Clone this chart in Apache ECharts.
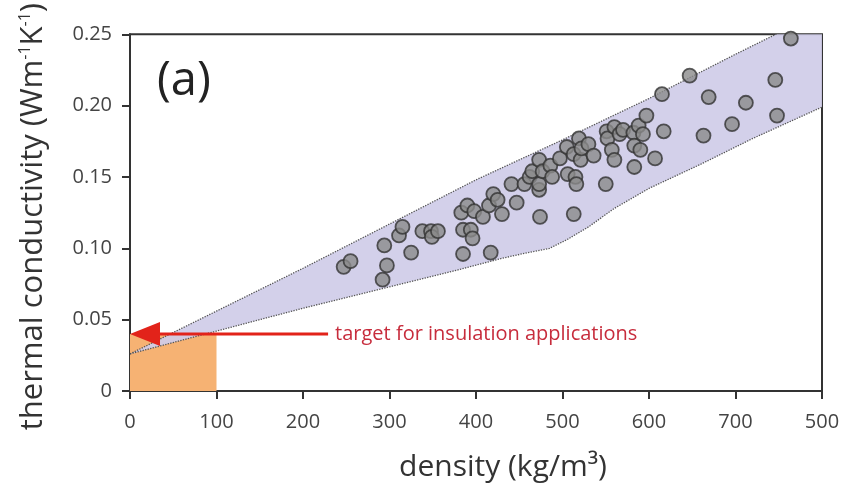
<!DOCTYPE html>
<html>
<head>
<meta charset="utf-8">
<script src="https://cdn.jsdelivr.net/npm/echarts@6/dist/echarts.min.js"></script>
<style>html,body{margin:0;padding:0;background:#fff}#c{width:847px;height:489px}</style>
</head>
<body>
<div id="c"></div>
<script>
const xTickLabels = ['0','100','200','300','400','500','600','700','500'];
const yTickLabels = ['0','0.05','0.10','0.15','0.20','0.25'];

const samples = [
  [247,0.087],[255,0.091],[292,0.078],[294,0.102],[297,0.088],[311,0.109],[315,0.115],[325,0.097],
  [338,0.112],[348,0.112],[349,0.108],[356,0.112],[383,0.125],[385,0.113],[385,0.096],[390,0.130],
  [394,0.113],[396,0.107],[398,0.126],[408,0.122],[415,0.130],[417,0.097],[420,0.138],[425,0.134],
  [430,0.124],[441,0.145],[447,0.132],[456,0.145],[462,0.150],[465,0.154],[473,0.162],[473,0.141],
  [473,0.145],[474,0.122],[477,0.154],[486,0.158],[488,0.150],[497,0.163],[505,0.171],[506,0.152],
  [513,0.166],[513,0.124],[515,0.150],[516,0.145],[519,0.177],[521,0.162],[522,0.170],[530,0.173],
  [536,0.165],[550,0.145],[551,0.182],[552,0.177],[557,0.169],[560,0.185],[560,0.162],[566,0.180],
  [570,0.183],[582,0.181],[583,0.172],[583,0.157],[588,0.186],[590,0.169],[593,0.180],[597,0.193],
  [607,0.163],[615,0.208],[617,0.182],[647,0.221],[663,0.179],[669,0.206],[696,0.187],[712,0.202],
  [746,0.218],[748,0.193],[764,0.247]
];

const upperBoundary = [[0,0.026],[100,0.056],[200,0.086],[300,0.117],[400,0.148],[500,0.176],[600,0.205],[700,0.236],[800,0.266]];
const lowerBoundary = [[0,0.026],[100,0.042],[200,0.058],[300,0.073],[380,0.085],[430,0.093],[460,0.097],[485,0.100],[505,0.106],[530,0.115],[560,0.128],[600,0.142],[660,0.159],[720,0.177],[800,0.199]];

const targetBox = [[0,0],[100,0.04]];
const arrowFrom = [229,0.04];
const arrowTo = [0,0.04];
const arrowText = 'target for insulation applications';

const FONT = 'Open Sans';
const chart = echarts.init(document.getElementById('c'));

chart.setOption({
  animation: false,
  textStyle: {fontFamily: FONT},
  title: {
    text: '(a)', left: 152, top: 53,
    textStyle: {fontFamily: FONT, fontSize: 47, fontWeight: 'normal', color: '#222'}
  },
  grid: {left: 130, right: 25, top: 34, bottom: 98, show: true, borderColor: '#333', borderWidth: 2, backgroundColor: 'transparent'},
  xAxis: {
    type: 'value', min: 0, max: 800, interval: 100,
    name: 'density (kg/m³)', nameLocation: 'middle', nameGap: 61,
    nameTextStyle: {fontSize: 30, color: '#333', fontFamily: FONT, padding: [0, 0, 0, 54]},
    axisLine: {show: true, lineStyle: {color: '#333', width: 2}},
    axisTick: {show: true, length: 8, lineStyle: {color: '#333', width: 2}},
    axisLabel: {fontSize: 20, color: '#444', margin: 21, fontFamily: FONT,
      formatter: v => xTickLabels[Math.round(v / 100)]},
    splitLine: {show: false}
  },
  yAxis: {
    type: 'value', min: 0, max: 0.25, interval: 0.05,
    name: 'thermal conductivity (Wm{s|-1}K{s|-1})', nameLocation: 'middle', nameGap: 81,
    nameTextStyle: {fontSize: 31, color: '#333', fontFamily: FONT, padding: [0, 8, 0, 0],
      rich: {s: {fontSize: 16, color: '#333', fontFamily: FONT, verticalAlign: 'top', lineHeight: 32}}},
    axisLine: {show: true, lineStyle: {color: '#333', width: 2}},
    axisTick: {show: true, length: 8, lineStyle: {color: '#333', width: 2}},
    axisLabel: {fontSize: 20, color: '#444', margin: 18, fontFamily: FONT,
      formatter: v => yTickLabels[Math.round(v / 0.05)]},
    splitLine: {show: false}
  },
  series: [
    {
      type: 'custom', z: 1, clip: true, silent: true,
      data: [[0, 0]],
      renderItem: (params, api) => {
        const a = api.coord(targetBox[0]);
        const b = api.coord(targetBox[1]);
        return {type: 'rect', shape: {x: a[0], y: b[1], width: b[0] - a[0], height: a[1] - b[1]},
          style: {fill: '#F6B273'}};
      }
    },
    {
      type: 'custom', z: 2, clip: true, silent: true,
      data: [[0, 0]],
      renderItem: (params, api) => {
        const pts = upperBoundary.map(p => api.coord(p))
          .concat(lowerBoundary.slice().reverse().map(p => api.coord(p)));
        return {type: 'polygon', shape: {points: pts}, style: {fill: '#CFCCE8', opacity: 0.92}};
      }
    },
    {
      type: 'line', z: 3, data: upperBoundary, symbol: 'none', silent: true,
      lineStyle: {type: 'dotted', color: '#555', width: 1.3}
    },
    {
      type: 'line', z: 3, data: lowerBoundary, symbol: 'none', silent: true,
      lineStyle: {type: 'dotted', color: '#555', width: 1.3}
    },
    {
      type: 'custom', z: 4, clip: false, silent: true,
      data: [[0, 0]],
      renderItem: (params, api) => {
        const s = api.coord(arrowFrom);
        const t = api.coord(arrowTo);
        const L = 30, H = 12;
        return {
          type: 'group',
          children: [
            {type: 'line', shape: {x1: s[0], y1: s[1], x2: t[0] + L - 2, y2: t[1]},
              style: {stroke: '#E2231A', lineWidth: 3}},
            {type: 'polygon', shape: {points: [[t[0], t[1]], [t[0] + L, t[1] - H], [t[0] + L, t[1] + H]]},
              style: {fill: '#E2231A'}},
            {type: 'text', x: s[0] + 7, y: s[1],
              style: {text: arrowText, fill: '#C72C3C', fontSize: 20, fontFamily: FONT,
                verticalAlign: 'middle', align: 'left'}}
          ]
        };
      }
    },
    {
      type: 'scatter', z: 5, data: samples, symbolSize: 14,
      itemStyle: {color: '#8B8B8B', borderColor: '#333', borderWidth: 1.8}
    }
  ]
});
</script>
</body>
</html>
